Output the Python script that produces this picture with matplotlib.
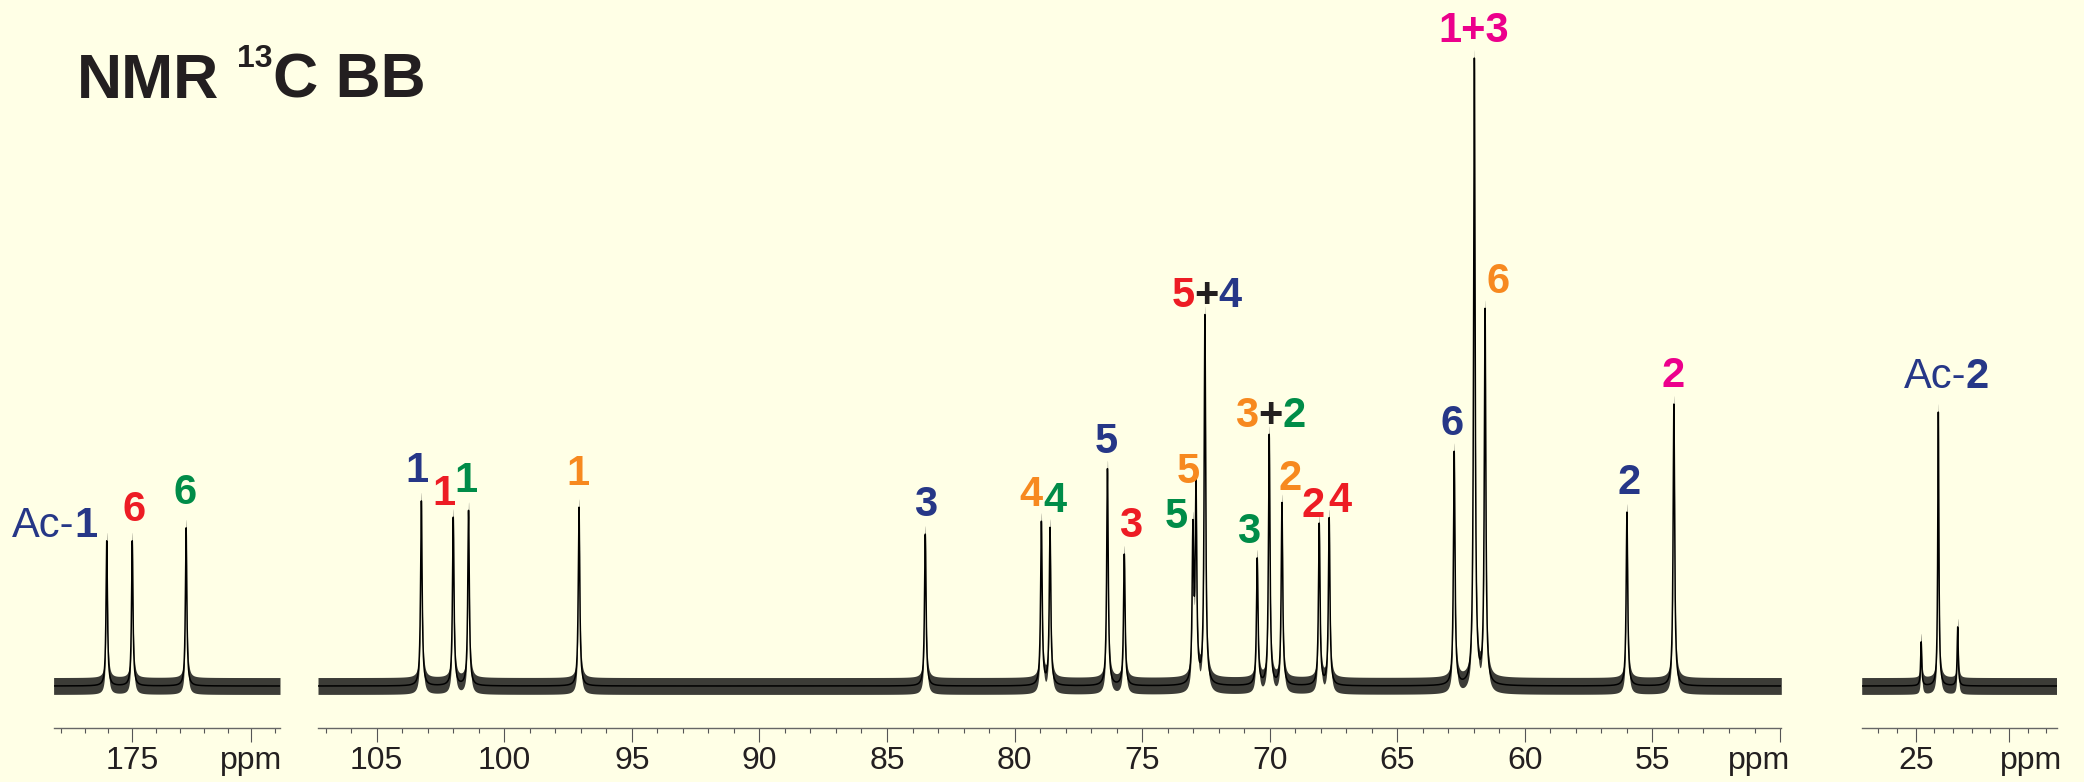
import numpy as np
import matplotlib
matplotlib.use("Agg")
import matplotlib.pyplot as plt

plt.rcParams['font.family'] = ['Liberation Sans', 'DejaVu Sans']

# ---------------- data (ppm positions and relative intensities) ----------------
peak_ppm_left = [176.07, 175.00, 172.74]
peak_int_left = [23.2, 23.2, 25.3]

peak_ppm_mid = [103.25, 102.00, 101.40, 97.07, 83.50, 78.95, 78.61, 76.36, 75.70,
                73.01, 72.89, 72.54, 70.49, 70.02, 69.52, 68.06, 67.67, 62.77,
                61.98, 61.56, 56.00, 54.16]
peak_int_mid = [29.6, 26.9, 28.0, 28.6, 24.3, 26.1, 25.1, 34.7, 21.0,
                23.8, 31.4, 59.0, 20.2, 40.0, 29.1, 25.8, 26.7, 37.3,
                100.0, 59.7, 27.8, 45.1]

peak_ppm_right = [24.71, 23.79, 22.75]
peak_int_right = [7.0, 43.8, 9.4]

# ---------------- styling ----------------
BG = '#FFFFE6'
BLUE = '#263787'
RED = '#ED1C24'
GREEN = '#008C48'
ORANGE = '#F7891F'
PINK = '#EC008C'
DARK = '#231F20'

W, H = 2084, 782
fig = plt.figure(figsize=(W / 100, H / 100), dpi=100, facecolor=BG)

ax_bottom = 54 / H
ax_height = 728 / H
px_per_unit = 6.25
y_lo = -42 / px_per_unit
y_hi = (728 - 42) / px_per_unit
gamma = 0.035
noise_amp = 1.35

panels = [
    dict(pos=53.6, width=226.4, xlim=(178.3, 168.8), ppm=peak_ppm_left, inten=peak_int_left,
         major=[175, 170], labels=['175', ''], minor=list(range(169, 179)), ppm_x=170.0),
    dict(pos=318.0, width=1463.3, xlim=(107.3, 49.95), ppm=peak_ppm_mid, inten=peak_int_mid,
         major=list(range(105, 49, -5)), labels=[str(v) for v in range(105, 54, -5)] + [''],
         minor=list(range(50, 108)), ppm_x=50.82),
    dict(pos=1861.7, width=194.8, xlim=(27.9, 17.45), ppm=peak_ppm_right, inten=peak_int_right,
         major=[25, 20], labels=['25', ''], minor=list(range(18, 28)), ppm_x=18.81),
]

TFS = 23
axes = []
for p in panels:
    ax = fig.add_axes([p['pos'] / W, ax_bottom, p['width'] / W, ax_height])
    ax.set_facecolor('none')
    x = np.linspace(p['xlim'][0], p['xlim'][1], 30000)
    y = np.zeros_like(x)
    for c, a in zip(p['ppm'], p['inten']):
        y += a * gamma ** 2 / ((x - c) ** 2 + gamma ** 2)
    ax.fill_between(x, y - noise_amp, y + noise_amp, color='#111111', alpha=0.82, lw=0)
    ax.plot(x, y, color='black', lw=1.1)
    ax.set_xlim(*p['xlim'])
    ax.set_ylim(y_lo, y_hi)
    for s in ['left', 'right', 'top']:
        ax.spines[s].set_visible(False)
    ax.spines['bottom'].set_color('#666666')
    ax.spines['bottom'].set_linewidth(1.0)
    ax.set_yticks([])
    ax.set_xticks(p['major'])
    ax.set_xticklabels(p['labels'])
    ax.set_xticks(p['minor'], minor=True)
    ax.tick_params(axis='x', which='major', direction='out', length=10, width=0.8,
                   color='#555555', labelsize=TFS, labelcolor=DARK, pad=3)
    ax.tick_params(axis='x', which='minor', direction='out', length=3.3, width=0.8,
                   color='#555555')
    ax.text(p['ppm_x'], -(14 + 4.2) / 728, 'ppm', transform=ax.get_xaxis_transform(),
            ha='center', va='top', fontsize=TFS, color=DARK, clip_on=False)
    axes.append(ax)

ax_l, ax_m, ax_r = axes

LFS = 30


def single(ax, s, color, x, y):
    ax.text(x, y, s, color=color, fontsize=LFS, fontweight='bold',
            ha='center', va='baseline', clip_on=False)


def multi(ax, segs, x, y):
    prev = None
    for s, color, weight in segs:
        if prev is None:
            prev = ax.text(x, y, s, color=color, fontsize=LFS, fontweight=weight,
                           ha='left', va='baseline', clip_on=False)
        else:
            prev = ax.annotate(s, xy=(1, 0), xycoords=prev, color=color, fontsize=LFS,
                               fontweight=weight, ha='left', va='bottom',
                               annotation_clip=False)


# left panel labels
multi(ax_l, [('Ac-', BLUE, 'normal'), ('1', BLUE, 'bold')], 180.03, 23.8)
single(ax_l, '6', RED, 174.92, 26.4)
single(ax_l, '6', GREEN, 172.77, 29.1)

# middle panel labels
single(ax_m, '1', BLUE, 103.42, 32.6)
single(ax_m, '1', RED, 102.35, 29.0)
single(ax_m, '1', GREEN, 101.52, 31.0)
single(ax_m, '1', ORANGE, 97.10, 32.2)
single(ax_m, '3', BLUE, 83.50, 27.2)
single(ax_m, '4', ORANGE, 79.35, 28.8)
single(ax_m, '4', GREEN, 78.41, 27.8)
single(ax_m, '5', BLUE, 76.41, 37.3)
single(ax_m, '3', RED, 75.47, 23.8)
single(ax_m, '5', GREEN, 73.67, 25.3)
single(ax_m, '5', ORANGE, 73.20, 32.5)
multi(ax_m, [('5', RED, 'bold'), ('+', DARK, 'bold'), ('4', BLUE, 'bold')], 73.86, 60.6)
single(ax_m, '3', GREEN, 70.84, 22.9)
multi(ax_m, [('3', ORANGE, 'bold'), ('+', DARK, 'bold'), ('2', GREEN, 'bold')], 71.36, 41.4)
single(ax_m, '2', ORANGE, 69.20, 31.4)
single(ax_m, '2', RED, 68.30, 27.0)
single(ax_m, '4', RED, 67.24, 27.8)
single(ax_m, '6', BLUE, 62.87, 40.2)
single(ax_m, '1+3', PINK, 61.99, 103.0)
single(ax_m, '6', ORANGE, 61.05, 62.9)
single(ax_m, '2', BLUE, 55.91, 30.7)
single(ax_m, '2', PINK, 54.19, 47.8)

# right panel label
multi(ax_r, [('Ac-', BLUE, 'normal'), ('2', BLUE, 'bold')], 25.66, 47.7)

# title
fig.text(77 / W, 1 - 98 / H, 'NMR', fontsize=45, fontweight='bold', color=DARK,
         ha='left', va='baseline')
fig.text(237 / W, 1 - 67 / H, '13', fontsize=23, fontweight='bold', color=DARK,
         ha='left', va='baseline')
fig.text(273 / W, 1 - 98 / H, 'C BB', fontsize=45, fontweight='bold', color=DARK,
         ha='left', va='baseline')

fig.savefig('out.png', dpi=100, facecolor=BG)
